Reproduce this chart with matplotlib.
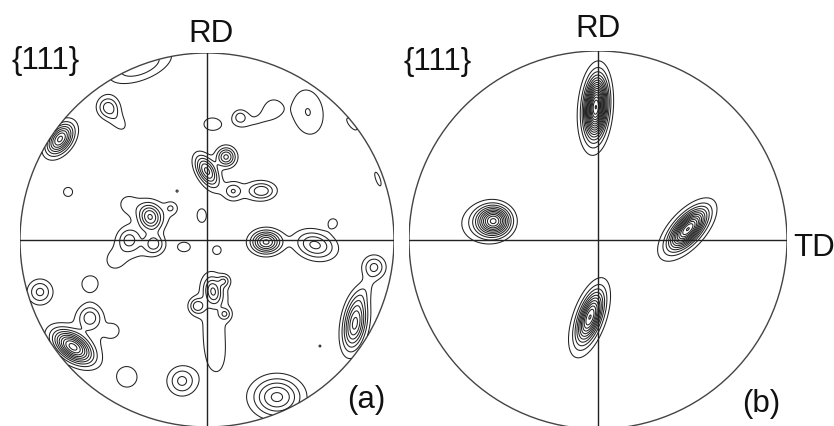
import numpy as np
import matplotlib
matplotlib.use("Agg")
import matplotlib.pyplot as plt
from matplotlib.patches import Circle

# {111} pole-figure intensity peaks, in projection coordinates (unit circle).
# Each peak: centre (u, v), peak intensity, spreads along/across its axis, axis angle (deg).
a_u   = [-0.786, -0.529, -0.476, -0.358, -0.743, -0.160, -0.305, -0.422, -0.193, -0.251,
         -0.417, -0.283, -0.492, -0.123, -0.027, 0.053, 0.000, 0.102, 0.139, 0.294,
         0.219, 0.176, 0.353, 0.257, 0.540, 0.027, 0.775, 0.914, 0.674, 0.316,
         0.578, 0.893, 0.791, 0.829, 0.374, 0.604, 0.032, 0.091, 0.096, -0.053,
         0.043, 0.043, -0.134, -0.428, -0.717, -0.626, -0.503, -0.893, -0.626, -0.599,
         -0.385]
a_v   = [0.540, 0.711, 0.636, 0.936, 0.257, 0.262, 0.123, 0.193, 0.171, 0.139,
         0.005, -0.021, -0.112, -0.037, 0.128, -0.053, 0.369, 0.444, 0.262, 0.262,
         0.262, 0.658, 0.711, 0.636, 0.684, 0.620, 0.620, 0.326, 0.091, -0.011,
         -0.027, -0.144, -0.449, -0.289, -0.840, -0.567, -0.273, -0.219, -0.396, -0.353,
         -0.600, -0.316, -0.754, -0.733, -0.572, -0.412, -0.481, -0.278, -0.235, -0.503,
         -0.059]
a_amp = [8.3, 3.3, 1.4, 3.0, 1.35, 1.03, 5.3, 1.3, 1.4, 1.0,
         3.05, 3.3, 1.2, 1.35, 1.35, 1.35, 6.3, 5.3, 2.3, 3.1,
         1.0, 2.2, 1.3, 1.05, 2.03, 1.35, 1.3, 1.3, 1.35, 7.3,
         4.3, 3.2, 7.3, 1.2, 5.3, 1.08, 4.2, 2.3, 2.3, 3.2,
         1.25, 1.05, 3.3, 1.35, 10.3, 3.3, 1.35, 3.3, 1.35, 0.9,
         0.9]
a_su  = [0.062, 0.040, 0.060, 0.120, 0.031, 0.008, 0.050, 0.050, 0.020, 0.110,
         0.043, 0.037, 0.050, 0.041, 0.041, 0.024, 0.061, 0.035, 0.030, 0.045,
         0.120, 0.027, 0.043, 0.090, 0.100, 0.055, 0.053, 0.053, 0.028, 0.053,
         0.075, 0.042, 0.094, 0.080, 0.088, 0.013, 0.050, 0.021, 0.021, 0.029,
         0.150, 0.130, 0.052, 0.069, 0.079, 0.045, 0.028, 0.045, 0.055, 0.107,
         0.090]
a_sv  = [0.039, 0.040, 0.035, 0.055, 0.031, 0.008, 0.040, 0.050, 0.020, 0.060,
         0.043, 0.037, 0.050, 0.031, 0.028, 0.024, 0.033, 0.035, 0.030, 0.030,
         0.050, 0.027, 0.043, 0.045, 0.067, 0.041, 0.021, 0.016, 0.028, 0.040,
         0.050, 0.042, 0.040, 0.032, 0.070, 0.013, 0.032, 0.021, 0.021, 0.029,
         0.070, 0.080, 0.052, 0.069, 0.044, 0.045, 0.028, 0.045, 0.055, 0.064,
         0.050]
a_ang = [54, 0, -52, 21, 0, 0, 110, 0, 0, 20,
         0, 0, 0, 0, 90, 0, 120, 0, 0, 0,
         5, 0, 0, 15, 100, 0, 128.6, 109.6, 0, 0,
         -15, 0, 80, 60, 0, 0, 100, 0, 0, 0,
         95, 90, 0, 0, -35, 0, 0, 0, 0, -20,
         0]

b_u   = [-0.011, -0.550, -0.620, 0.476, -0.042, -0.020, 0.465, -0.050]
b_v   = [0.704, 0.101, 0.085, 0.058, -0.407, 0.680, 0.050, -0.420]
b_amp = [14.3, 10.0, 2.0, 11.3, 9.3, 1.8, 1.8, 1.8]
b_su  = [0.098, 0.056, 0.080, 0.082, 0.090, 0.150, 0.135, 0.145]
b_sv  = [0.036, 0.050, 0.070, 0.037, 0.035, 0.062, 0.068, 0.062]
b_ang = [86, 0, 0, 48, 71, 86, 48, 71]

levels = np.arange(1, 17)

LINE = "#222222"


def intensity(X, Y, u, v, amp, su, sv, ang):
    Z = np.zeros_like(X)
    for uc, vc, A, s1, s2, t in zip(u, v, amp, su, sv, ang):
        th = np.radians(t)
        dx, dy = X - uc, Y - vc
        p = dx * np.cos(th) + dy * np.sin(th)
        q = -dx * np.sin(th) + dy * np.cos(th)
        Z += A * np.exp(-0.5 * ((p / s1) ** 2 + (q / s2) ** 2))
    return Z


def pole_figure(ax, u, v, amp, su, sv, ang):
    g = np.linspace(-1.0, 1.0, 801)
    X, Y = np.meshgrid(g, g)
    Z = intensity(X, Y, u, v, amp, su, sv, ang)
    Z[X ** 2 + Y ** 2 > 1.0] = np.nan
    ax.contour(X, Y, Z, levels=levels, colors=LINE, linewidths=0.75)
    ax.add_patch(Circle((0, 0), 1.0, fill=False, edgecolor="#444444", lw=1.0))
    ax.plot([-1, 1], [0, 0], color=LINE, lw=1.0)
    ax.plot([0, 0], [-1, 1], color=LINE, lw=1.0)
    ax.set_xlim(-1, 1)
    ax.set_ylim(-1, 1)
    ax.set_aspect("equal")
    ax.axis("off")


W, H = 834, 427
fig = plt.figure(figsize=(W / 100, H / 100), dpi=100)
plt.rcParams["font.family"] = ["Liberation Sans", "DejaVu Sans"]


def px_axes(cx, cy, r):
    return fig.add_axes([(cx - r) / W, (H - cy - r) / H, 2 * r / W, 2 * r / H])


ax_a = px_axes(207, 241, 187)
pole_figure(ax_a, a_u, a_v, a_amp, a_su, a_sv, a_ang)
ax_b = px_axes(598, 241, 189)
pole_figure(ax_b, b_u, b_v, b_amp, b_su, b_sv, b_ang)


def label(x, y, s, ha="center"):
    fig.text(x / W, 1 - y / H, s, ha=ha, va="baseline", fontsize=22.5, color="#111111")


label(211, 42, "RD")
label(598, 37, "RD")
label(12, 69, "{111}", ha="left")
label(404, 70, "{111}", ha="left")
label(793, 256, "TD", ha="left")
label(366, 408, "(a)")
label(761, 412, "(b)")

fig.savefig("out.png", dpi=100)
